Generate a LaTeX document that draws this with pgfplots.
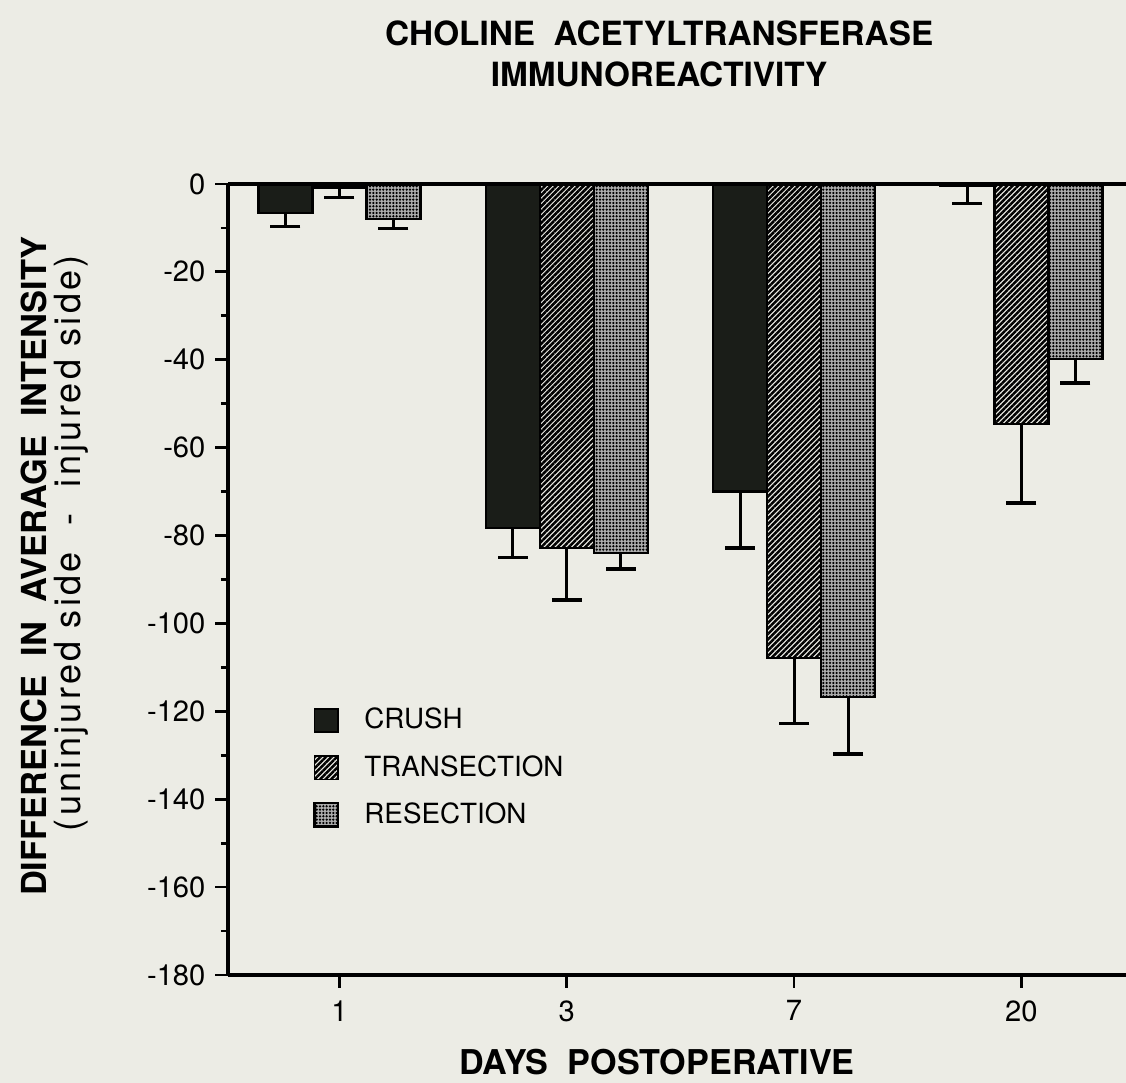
\documentclass[border=0pt]{standalone}
\usepackage{pgfplots}
\pgfplotsset{compat=1.18}
\usepackage{fontspec}
\setmainfont{TeX Gyre Heros}
\usetikzlibrary{patterns,patterns.meta}
\definecolor{bg}{RGB}{236,236,229}
\definecolor{crushc}{RGB}{26,29,24}

\pgfplotstableread{
x y e
0 -6.6 3.0
1 -78.3 6.7
2 -70.0 12.8
3 -0.5 4.0
}\crush
\pgfplotstableread{
x y e
0 -0.8 2.2
1 -82.8 11.9
2 -107.9 14.8
3 -54.6 18.0
}\transection
\pgfplotstableread{
x y e
0 -8.0 2.2
1 -84.0 3.6
2 -116.8 12.9
3 -39.8 5.5
}\resection

\begin{document}
\begin{tikzpicture}
\fill[bg] (-82.08pt,-38.88pt) rectangle (323.28pt,351pt);
\useasboundingbox (-82.08pt,-38.88pt) rectangle (323.28pt,351pt);
\begin{axis}[
  at={(0pt,0pt)}, anchor=south west,
  scale only axis, width=323.28pt, height=284.76pt,
  axis lines*=left,
  xmin=-0.49, xmax=3.46, ymin=-180, ymax=0,
  ybar=0pt, bar width=19.44pt,
  xtick={0,1,2,3}, xticklabels={1,3,7,20},
  ytick={-180,-160,...,0}, minor y tick num=1,
  tick align=outside, major tick length=4.6pt, minor tick length=2.6pt,
  axis line style={line width=1.1pt},
  every tick/.style={line width=1pt, black},
  tick label style={font=\fontsize{10.5}{12}\selectfont},
  /pgf/number format/assume math mode=true,
  xticklabel style={yshift=-1pt},
  clip=false,
  legend style={at={(0.0947,0.345)}, anchor=north west, draw=none, fill=none,
    font=\fontsize{10}{12}\selectfont, row sep=4pt, inner sep=0pt},
  legend cell align=left,
  legend image code/.code={\draw[#1, line width=0.6pt] (0pt,-4.2pt) rectangle (8.4pt,4.2pt); \path (15.6pt,0pt);},
  error bars/y dir=minus, error bars/y explicit,
  error bars/error bar style={line width=1.1pt, black},
  error bars/error mark options={rotate=90, mark size=5.4pt, line width=1.2pt, black},
]
\addplot[draw=black, line width=0.8pt, fill=crushc] table[x=x, y=y, y error=e] {\crush};
\addplot[draw=black, line width=0.8pt, pattern={Lines[angle=45,distance=1.4pt,line width=0.9pt]}, pattern color=black] table[x=x, y=y, y error=e] {\transection};
\addplot[draw=black, line width=0.8pt, preaction={fill=black!32}, pattern={Dots[distance=1.2pt,radius=0.45pt]}, pattern color=black] table[x=x, y=y, y error=e] {\resection};
\legend{CRUSH, TRANSECTION, RESECTION}
\draw[line width=1.3pt] (axis cs:-0.49,0) -- (axis cs:3.46,0);
\end{axis}
\node[align=center, font=\bfseries\fontsize{12}{14.8}\selectfont] at (155.2pt,331.7pt) {CHOLINE\ \ ACETYLTRANSFERASE\\IMMUNOREACTIVITY};
\node[font=\bfseries\fontsize{12.3}{14}\selectfont] at (154.4pt,-31.3pt) {DAYS\ \ POSTOPERATIVE};
\node[rotate=90, font=\bfseries\fontsize{12.4}{14}\selectfont] at (-69.8pt,147.2pt) {DIFFERENCE\ \ IN\ \ AVERAGE\ \ INTENSITY};
\node[rotate=90, font=\fontsize{13}{15}\selectfont\addfontfeatures{LetterSpace=9}] at (-56.3pt,155.5pt) {(uninjured side\ \ -\ \ injured side)};
\end{tikzpicture}
\end{document}
